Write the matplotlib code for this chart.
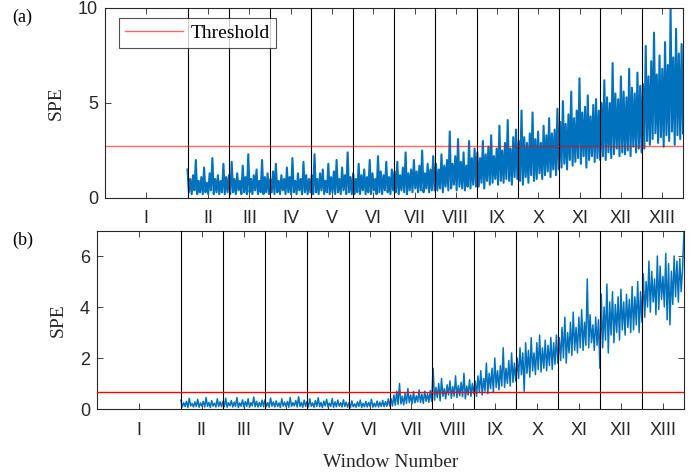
import numpy as np
import matplotlib
matplotlib.use("Agg")
import matplotlib.pyplot as plt

# window labels and tick positions (window I is the two-unit training span)
windows = ['I', 'II', 'III', 'IV', 'V', 'VI', 'VII', 'VIII', 'IX', 'X', 'XI', 'XII', 'XIII']
win_edges = [2, 3, 4, 5, 6, 7, 8, 9, 10, 11, 12, 13]
win_centers = [1, 2.5, 3.5, 4.5, 5.5, 6.5, 7.5, 8.5, 9.5, 10.5, 11.5, 12.5, 13.5]

thr_a = 2.75
thr_b = 0.65

# SPE samples per test window (II..XIII), panel (a)
spe_a = [
    [1.5, 0.3, 1.0, 0.2, 1.2, 0.4, 2.0, 0.2, 0.9, 0.3, 1.1, 0.2, 1.6, 0.3, 0.8, 0.2, 1.3, 0.4, 2.1, 0.2, 1.0, 0.3, 1.2, 0.2, 0.9, 0.3, 1.8, 0.2, 1.1, 0.3],
    [1.2, 0.2, 1.9, 0.3, 1.0, 0.2, 1.3, 0.4, 0.9, 0.2, 1.7, 0.3, 1.1, 0.2, 2.3, 0.3, 1.0, 0.2, 1.2, 0.4, 1.5, 0.2, 0.9, 0.3, 2.0, 0.2, 1.1, 0.3, 1.3, 0.2],
    [1.0, 0.3, 1.4, 0.2, 1.8, 0.3, 0.9, 0.2, 1.2, 0.4, 1.0, 0.2, 1.6, 0.3, 1.1, 0.2, 2.1, 0.3, 0.9, 0.2, 1.3, 0.4, 1.0, 0.2, 1.9, 0.3, 1.2, 0.2, 1.0, 0.3],
    [1.2, 0.2, 2.3, 0.3, 1.0, 0.2, 1.3, 0.4, 1.5, 0.2, 0.9, 0.3, 1.8, 0.2, 1.1, 0.3, 1.4, 0.2, 2.0, 0.3, 1.0, 0.2, 1.6, 0.4, 1.2, 0.2, 2.4, 0.3, 1.1, 0.2],
    [1.3, 0.2, 1.0, 0.3, 1.8, 0.2, 1.2, 0.4, 1.5, 0.2, 1.1, 0.3, 2.0, 0.2, 1.3, 0.4, 1.0, 0.2, 2.2, 0.3, 1.4, 0.2, 1.2, 0.4, 1.9, 0.3, 1.1, 0.2, 1.5, 0.4],
    [1.4, 0.3, 1.9, 0.2, 1.2, 0.4, 1.6, 0.3, 2.4, 0.2, 1.3, 0.4, 1.5, 0.3, 2.0, 0.5, 1.4, 0.3, 1.7, 0.4, 2.5, 0.3, 1.3, 0.5, 1.8, 0.3, 1.5, 0.4, 2.2, 0.4],
    [1.8, 0.4, 1.5, 0.5, 2.3, 0.3, 1.7, 0.6, 2.0, 0.4, 3.5, 0.5, 1.8, 0.7, 2.2, 0.4, 3.1, 0.6, 1.9, 0.5, 2.4, 0.4, 1.7, 0.6, 3.0, 0.5, 2.1, 0.7, 2.6, 0.6],
    [2.4, 0.6, 2.1, 0.8, 3.0, 0.5, 2.3, 0.9, 2.7, 0.7, 3.3, 0.8, 2.2, 1.0, 2.6, 0.7, 3.8, 0.9, 2.5, 0.8, 2.9, 1.0, 4.1, 0.9, 2.6, 0.7, 3.2, 1.1, 3.6, 1.0],
    [3.0, 0.9, 4.6, 0.7, 3.2, 1.1, 2.9, 0.8, 3.4, 1.2, 4.5, 0.9, 3.1, 1.0, 3.5, 1.3, 2.9, 1.0, 3.8, 1.2, 3.3, 1.4, 4.2, 1.1, 3.4, 1.5, 3.6, 1.2, 4.7, 1.5],
    [4.0, 1.6, 5.1, 1.8, 3.9, 1.5, 4.4, 2.0, 5.6, 1.7, 4.2, 1.9, 4.6, 2.1, 6.3, 1.8, 4.5, 2.2, 4.8, 1.6, 5.4, 2.0, 4.3, 2.2, 4.9, 1.9, 5.2, 2.1, 4.6, 2.0],
    [5.0, 2.2, 6.2, 2.0, 5.3, 2.4, 5.0, 2.1, 7.1, 2.3, 5.5, 2.6, 5.2, 2.2, 6.4, 2.4, 5.6, 2.3, 5.3, 2.5, 6.8, 2.2, 5.8, 2.7, 5.5, 2.4, 6.6, 2.6, 5.9, 2.4],
    [6.0, 2.6, 8.0, 3.0, 6.4, 2.8, 7.2, 3.1, 8.7, 3.4, 6.5, 2.9, 7.5, 3.2, 6.8, 2.7, 8.2, 3.3, 7.0, 3.0, 10.0, 3.5, 7.4, 2.8, 8.9, 3.3, 7.6, 3.1, 8.1, 3.4],
]

# SPE samples per test window (II..XIII), panel (b)
spe_b = [
    [0.35, 0.08, 0.25, 0.10, 0.30, 0.06, 0.42, 0.12, 0.22, 0.08, 0.28, 0.10, 0.38, 0.07, 0.24, 0.11, 0.30, 0.08, 0.45, 0.10, 0.26, 0.06, 0.33, 0.11, 0.23, 0.08, 0.40, 0.10, 0.28, 0.09],
    [0.30, 0.09, 0.42, 0.07, 0.25, 0.12, 0.33, 0.08, 0.27, 0.10, 0.45, 0.06, 0.24, 0.11, 0.36, 0.08, 0.29, 0.10, 0.40, 0.07, 0.25, 0.12, 0.47, 0.09, 0.30, 0.08, 0.26, 0.10, 0.35, 0.09],
    [0.36, 0.10, 0.25, 0.07, 0.43, 0.11, 0.28, 0.08, 0.32, 0.10, 0.24, 0.06, 0.40, 0.11, 0.27, 0.09, 0.30, 0.07, 0.45, 0.10, 0.25, 0.12, 0.33, 0.08, 0.48, 0.10, 0.26, 0.07, 0.35, 0.10],
    [0.30, 0.08, 0.40, 0.11, 0.24, 0.07, 0.33, 0.10, 0.44, 0.09, 0.26, 0.06, 0.31, 0.12, 0.38, 0.08, 0.23, 0.10, 0.41, 0.07, 0.28, 0.09, 0.35, 0.11, 0.25, 0.08, 0.36, 0.10, 0.27, 0.07],
    [0.25, 0.06, 0.32, 0.09, 0.20, 0.07, 0.28, 0.10, 0.35, 0.06, 0.22, 0.09, 0.30, 0.08, 0.26, 0.10, 0.38, 0.07, 0.23, 0.09, 0.31, 0.08, 0.27, 0.10, 0.34, 0.09, 0.29, 0.11, 0.40, 0.12],
    [0.40, 0.12, 0.55, 0.15, 0.70, 0.18, 1.00, 0.20, 0.50, 0.16, 0.62, 0.22, 0.80, 0.25, 0.55, 0.20, 0.68, 0.24, 0.52, 0.28, 0.75, 0.26, 0.58, 0.22, 0.70, 0.30, 0.60, 0.27, 0.72, 0.30],
    [1.60, 0.35, 0.85, 0.45, 1.00, 0.32, 1.20, 0.50, 0.80, 0.40, 0.95, 0.55, 1.10, 0.42, 0.88, 0.50, 1.30, 0.45, 0.92, 0.52, 1.05, 0.48, 1.40, 0.40, 0.90, 0.55, 1.15, 0.50, 1.00, 0.60],
    [1.10, 0.50, 1.30, 0.65, 1.50, 0.55, 1.20, 0.70, 1.80, 0.60, 1.40, 0.80, 1.60, 0.65, 2.00, 0.85, 1.50, 0.75, 1.70, 0.90, 2.40, 0.85, 1.60, 1.00, 1.90, 0.90, 2.20, 1.05, 1.80, 1.10],
    [2.00, 1.20, 2.40, 1.35, 2.20, 0.70, 2.60, 1.40, 2.30, 1.25, 2.80, 1.50, 2.20, 1.35, 2.60, 1.55, 2.90, 1.45, 2.40, 1.60, 2.70, 1.50, 2.50, 1.70, 2.80, 1.55, 2.60, 1.75, 2.90, 1.80],
    [2.80, 1.90, 3.20, 2.00, 3.60, 1.80, 3.00, 2.20, 3.40, 2.10, 3.80, 2.30, 3.20, 2.20, 3.60, 2.40, 3.90, 2.30, 3.40, 2.50, 5.10, 2.40, 3.70, 2.60, 3.30, 2.30, 3.60, 2.50, 3.50, 1.60],
    [4.50, 2.40, 4.00, 2.70, 4.90, 2.20, 4.20, 2.90, 4.60, 2.60, 4.10, 3.00, 4.40, 2.70, 4.70, 3.10, 4.20, 2.90, 4.50, 3.20, 4.30, 3.00, 4.80, 3.10, 4.40, 3.30, 5.00, 3.00, 4.60, 3.40],
    [5.30, 3.60, 5.00, 4.00, 5.80, 3.80, 5.40, 4.20, 5.10, 3.70, 6.00, 3.90, 5.60, 4.30, 5.20, 4.00, 6.10, 3.50, 5.70, 3.30, 5.40, 4.10, 6.00, 4.40, 5.80, 4.20, 5.90, 4.60, 5.50, 7.00],
]

blue = '#0072BD'
axcol = '#262626'
serif = ['Liberation Serif', 'DejaVu Serif']
sans = ['Liberation Sans', 'DejaVu Sans']

plt.rcParams['font.family'] = sans
plt.rcParams['axes.linewidth'] = 0.8

fig = plt.figure(figsize=(6.97, 4.75), dpi=100)
ax1 = fig.add_axes([0.1506, 0.5832, 0.8293, 0.4000])
ax2 = fig.add_axes([0.1392, 0.1389, 0.8421, 0.3758])


def draw_panel(ax, spe, thr, ylim, yticks, thr_alpha, lw):
    y = np.concatenate([np.array(v, dtype=float) for v in spe])
    x = np.linspace(2, 14, len(y))
    ax.plot(x, y, color=blue, lw=lw, zorder=2)
    for e in win_edges:
        ax.axvline(e, color='black', lw=0.8, zorder=3)
    h, = ax.plot([0, 14], [thr, thr], color='red', lw=1.0, alpha=thr_alpha,
                 zorder=4, label='Threshold')
    ax.set_xlim(0, 14)
    ax.set_ylim(*ylim)
    ax.set_yticks(yticks)
    ax.set_xticks(win_centers)
    ax.set_xticklabels(windows)
    ax.tick_params(direction='in', top=True, right=True, length=4,
                   width=0.6, labelsize=13, colors=axcol, pad=9)
    ax.tick_params(axis='y', pad=5)
    for s in ax.spines.values():
        s.set_color(axcol)
    return h


h = draw_panel(ax1, spe_a, thr_a, (0, 10), [0, 5, 10], 0.6, 1.5)
draw_panel(ax2, spe_b, thr_b, (0, 7), [0, 2, 4, 6], 1.0, 1.1)

ax1.set_ylabel('SPE', family=serif, fontsize=14, color=axcol)
ax1.yaxis.set_label_coords(-0.069, 0.5)
ax2.set_ylabel('SPE', family=serif, fontsize=14, color=axcol)
ax2.yaxis.set_label_coords(-0.051, 0.5)
ax2.set_xlabel('Window Number', family=serif, fontsize=14, color=axcol, labelpad=11)

leg = ax1.legend(handles=[h], loc='upper left', bbox_to_anchor=(0.024, 0.945),
                 prop={'family': serif, 'size': 14}, fancybox=False,
                 handlelength=3.0, handletextpad=0.4, borderpad=0.3,
                 borderaxespad=0.0)
leg.get_frame().set_edgecolor(axcol)
leg.get_frame().set_linewidth(0.8)

fig.text(0.017, 0.963, '(a)', family=serif, fontsize=13, va='center')
fig.text(0.017, 0.495, '(b)', family=serif, fontsize=13, va='center')

fig.savefig('out.png', dpi=100)
